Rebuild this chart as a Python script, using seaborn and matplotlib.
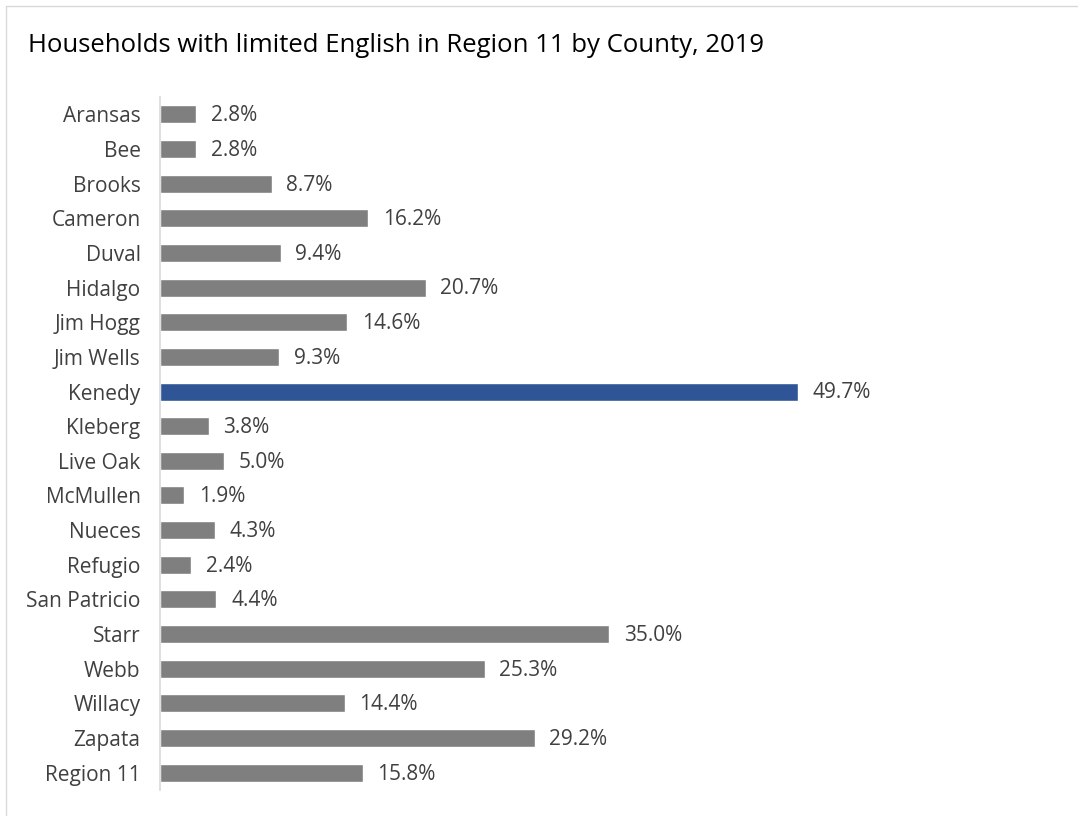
import matplotlib
matplotlib.use("Agg")
import matplotlib.pyplot as plt
from matplotlib.patches import Rectangle
import seaborn as sns
import pandas as pd

counties = ["Aransas", "Bee", "Brooks", "Cameron", "Duval", "Hidalgo", "Jim Hogg",
            "Jim Wells", "Kenedy", "Kleberg", "Live Oak", "McMullen", "Nueces",
            "Refugio", "San Patricio", "Starr", "Webb", "Willacy", "Zapata", "Region 11"]
pct_limited_english = [2.8, 2.8, 8.7, 16.2, 9.4, 20.7, 14.6, 9.3, 49.7, 3.8, 5.0, 1.9,
                       4.3, 2.4, 4.4, 35.0, 25.3, 14.4, 29.2, 15.8]
highlight = "Kenedy"

GRAY = "#7F7F7F"
BLUE = "#2F5597"

df = pd.DataFrame({"county": counties, "pct": pct_limited_english})
palette = {c: (BLUE if c == highlight else GRAY) for c in counties}

sns.set_theme(style="white")
plt.rcParams["font.family"] = ["Open Sans", "DejaVu Sans"]

fig = plt.figure(figsize=(10.78, 8.16), dpi=100)
ax = fig.add_axes([160 / 1078, 26 / 816, 898 / 1078, 693 / 816])

sns.barplot(data=df, y="county", x="pct", hue="county", palette=palette,
            order=counties, hue_order=counties, orient="h", width=0.52,
            legend=False, saturation=1, ax=ax)

for i, v in enumerate(pct_limited_english):
    ax.text(v + 1.15, i + 0.04, f"{v:.1f}%", va="center", ha="left",
            fontsize=15, color="#404040")

ax.set_xlim(0, 70)
ax.set_ylim(len(counties) - 0.5, -0.5)
ax.set_xlabel("")
ax.set_ylabel("")
ax.set_xticks([])
ax.tick_params(axis="y", length=0, pad=14, labelsize=15, labelcolor="#404040")
for s in ["top", "right", "bottom"]:
    ax.spines[s].set_visible(False)
ax.spines["left"].set_color("#D9D9D9")
ax.spines["left"].set_linewidth(1.2)

fig.text(28 / 1078, 1 - 45 / 816, "Households with limited English in Region 11 by County, 2019",
         ha="left", va="center", fontsize=18.5, color="#000000")

fig.patches.append(Rectangle((6 / 1078, -0.01), 1.5, 1 - 6 / 816 + 0.01,
                             transform=fig.transFigure, fill=False,
                             edgecolor="#D9D9D9", linewidth=1))

fig.savefig("out.png", dpi=100)
